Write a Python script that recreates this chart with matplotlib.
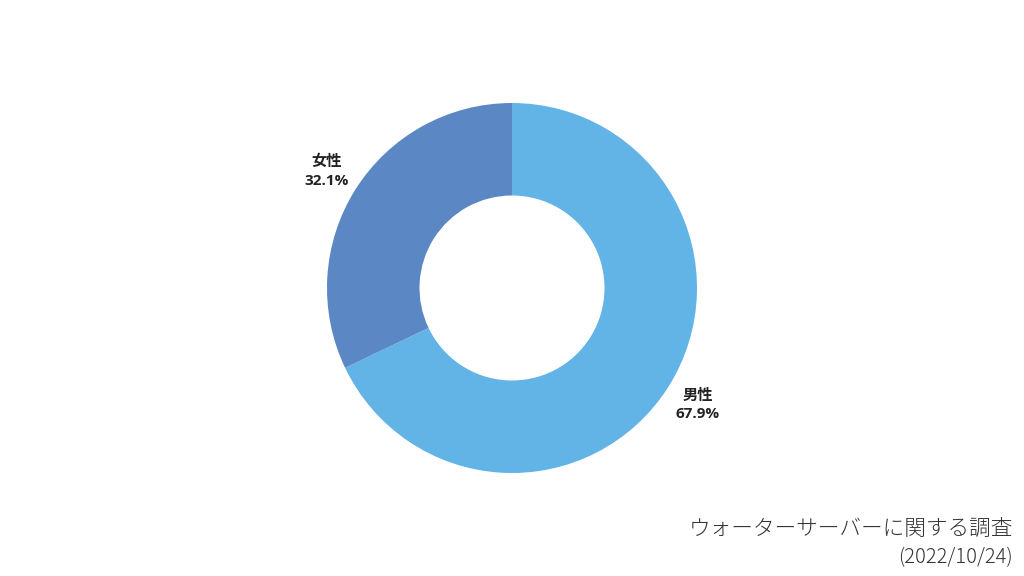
import matplotlib
matplotlib.use("Agg")
import matplotlib.pyplot as plt

plt.rcParams['font.family'] = ['Noto Sans CJK JP', 'DejaVu Sans']

# data
labels = ["男性", "女性"]
shares = [67.9, 32.1]
colors = ["#62B4E6", "#5B88C4"]

title = "ウォーターサーバーに関する調査"
date = "(2022/10/24)"

W, H, R = 1024, 576, 185.0
fig = plt.figure(figsize=(W / 100, H / 100), dpi=100)
ax = fig.add_axes([0, 0, 1, 1])

texts = [f"{l}\n{v:.1f}%" for l, v in zip(labels, shares)]
wedges, lbls = ax.pie(shares, labels=texts, colors=colors, startangle=90,
                      counterclock=False, radius=1.0, labeldistance=1.185,
                      wedgeprops=dict(width=0.5, edgecolor='none'),
                      textprops=dict(fontsize=11, fontweight='bold', color='#222222',
                                     family=['Open Sans', 'Noto Sans CJK JP']))
for t in lbls:
    t.set_horizontalalignment('center')
    t.set_verticalalignment('center')
    t.set_linespacing(1.4)

ax.set_xlim(-W / 2 / R, W / 2 / R)
ax.set_ylim(-H / 2 / R, H / 2 / R)
ax.set_aspect('equal')
ax.axis('off')

fig.text(1013 / W, 1 - 530 / H, title, ha='right', va='center',
         fontsize=15.6, fontweight='light', color='#333333')
fig.text(1013 / W, 1 - 558 / H, date, ha='right', va='center',
         fontsize=14.5, fontweight='light', color='#333333')

fig.savefig("out.png", dpi=100)
